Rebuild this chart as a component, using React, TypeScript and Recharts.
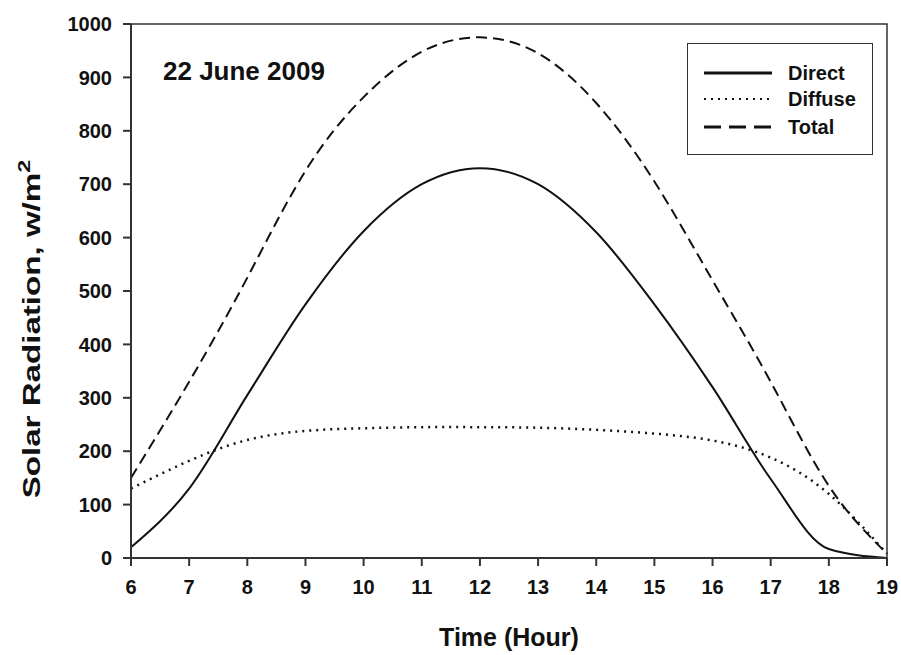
import { LineChart, Line, XAxis, YAxis, ReferenceArea, Legend } from "recharts"

const hours = [6, 7, 8, 9, 10, 11, 12, 13, 14, 15, 16, 17, 18, 19]
const direct = [20, 130, 305, 475, 612, 700, 730, 700, 610, 475, 320, 148, 17, 0]
const diffuse = [130, 182, 221, 238, 243, 245, 245, 244, 240, 233, 220, 188, 120, 8]
const total = [150, 330, 525, 725, 863, 948, 975, 945, 852, 705, 520, 330, 135, 8]
const yTicks = [0, 100, 200, 300, 400, 500, 600, 700, 800, 900, 1000]

const data = hours.map((h, i) => ({
  hour: h,
  direct: direct[i],
  diffuse: diffuse[i],
  total: total[i],
}))

const font = "'Liberation Sans', Arial, sans-serif"
const ink = "#111111"

const legendItems = [
  { name: "Direct", dash: undefined, width: 3 },
  { name: "Diffuse", dash: "2 5", width: 2 },
  { name: "Total", dash: "17 8", width: 3 },
]

function LegendBox() {
  return (
    <div
      style={{
        width: 184,
        height: 110,
        border: "1.5px solid #333",
        background: "#fff",
        fontFamily: font,
      }}
    >
      <svg width={184} height={110}>
        {legendItems.map((it, i) => {
          const y = [29, 55, 83][i]
          return (
            <g key={it.name}>
              <line
                x1={16}
                x2={84}
                y1={y}
                y2={y}
                stroke={ink}
                strokeWidth={it.width}
                strokeDasharray={it.dash}
              />
              <text
                x={100}
                y={y}
                dominantBaseline="central"
                fontSize={20}
                fontWeight="bold"
                fill={ink}
                fontFamily={font}
              >
                {it.name}
              </text>
            </g>
          )
        })}
      </svg>
    </div>
  )
}

function YLabel() {
  return (
    <text
      transform="translate(32, 329) rotate(-90) scale(1.38, 1)"
      textAnchor="middle"
      dominantBaseline="central"
      fontSize={24}
      fontWeight="bold"
      fontFamily={font}
      fill={ink}
    >
      Solar Radiation, w/m
      <tspan dy={-9} fontSize={17}>
        2
      </tspan>
    </text>
  )
}

function XLabel(props: any) {
  const vb = props.viewBox
  return (
    <text
      x={vb.x + vb.width / 2}
      y={637}
      textAnchor="middle"
      dominantBaseline="central"
      fontSize={25}
      fontWeight="bold"
      fontFamily={font}
      fill={ink}
    >
      Time (Hour)
    </text>
  )
}

export default function App() {
  const tick = { fontSize: 20, fontWeight: "bold", fill: ink, fontFamily: font }
  return (
    <div style={{ position: "absolute", left: 0, top: 0, width: 901, height: 655, background: "#fff" }}>
      <LineChart
        width={901}
        height={655}
        data={data}
        margin={{ top: 24, right: 14, left: 71, bottom: 57 }}
      >
        <XAxis
          dataKey="hour"
          type="number"
          domain={[6, 19]}
          ticks={hours}
          interval={0}
          tick={tick}
          tickSize={8}
          tickMargin={14}
          height={40}
          stroke="#333"
          strokeWidth={2}
          label={<XLabel />}
        />
        <YAxis
          domain={[0, 1000]}
          ticks={yTicks}
          interval={0}
          tick={tick}
          tickSize={8}
          tickMargin={11}
          width={60}
          stroke="#333"
          strokeWidth={2}
          label={<YLabel />}
        />
        <ReferenceArea
          x1={6}
          x2={19}
          y1={0}
          y2={1000}
          fill="none"
          stroke="#333"
          strokeWidth={1.5}
          ifOverflow="visible"
        />
        <Legend
          layout="horizontal"
          verticalAlign="middle"
          align="center"
          content={<LegendBox />}
          wrapperStyle={{ position: "absolute", left: 687, top: 43, width: 186, height: 112 }}
        />
        <Line
          dataKey="direct"
          name="Direct"
          type="monotone"
          stroke={ink}
          strokeWidth={2}
          dot={false}
          isAnimationActive={false}
        />
        <Line
          dataKey="diffuse"
          name="Diffuse"
          type="natural"
          stroke={ink}
          strokeWidth={2.5}
          strokeDasharray="2 5"
          dot={false}
          isAnimationActive={false}
        />
        <Line
          dataKey="total"
          name="Total"
          type="natural"
          stroke={ink}
          strokeWidth={2}
          strokeDasharray="11 6"
          dot={false}
          isAnimationActive={false}
        />
      </LineChart>
      <div
        style={{
          position: "absolute",
          left: 163,
          top: 58,
          fontFamily: font,
          fontSize: 26,
          fontWeight: "bold",
          lineHeight: 1,
          color: ink,
          whiteSpace: "nowrap",
        }}
      >
        22 June 2009
      </div>
    </div>
  )
}
